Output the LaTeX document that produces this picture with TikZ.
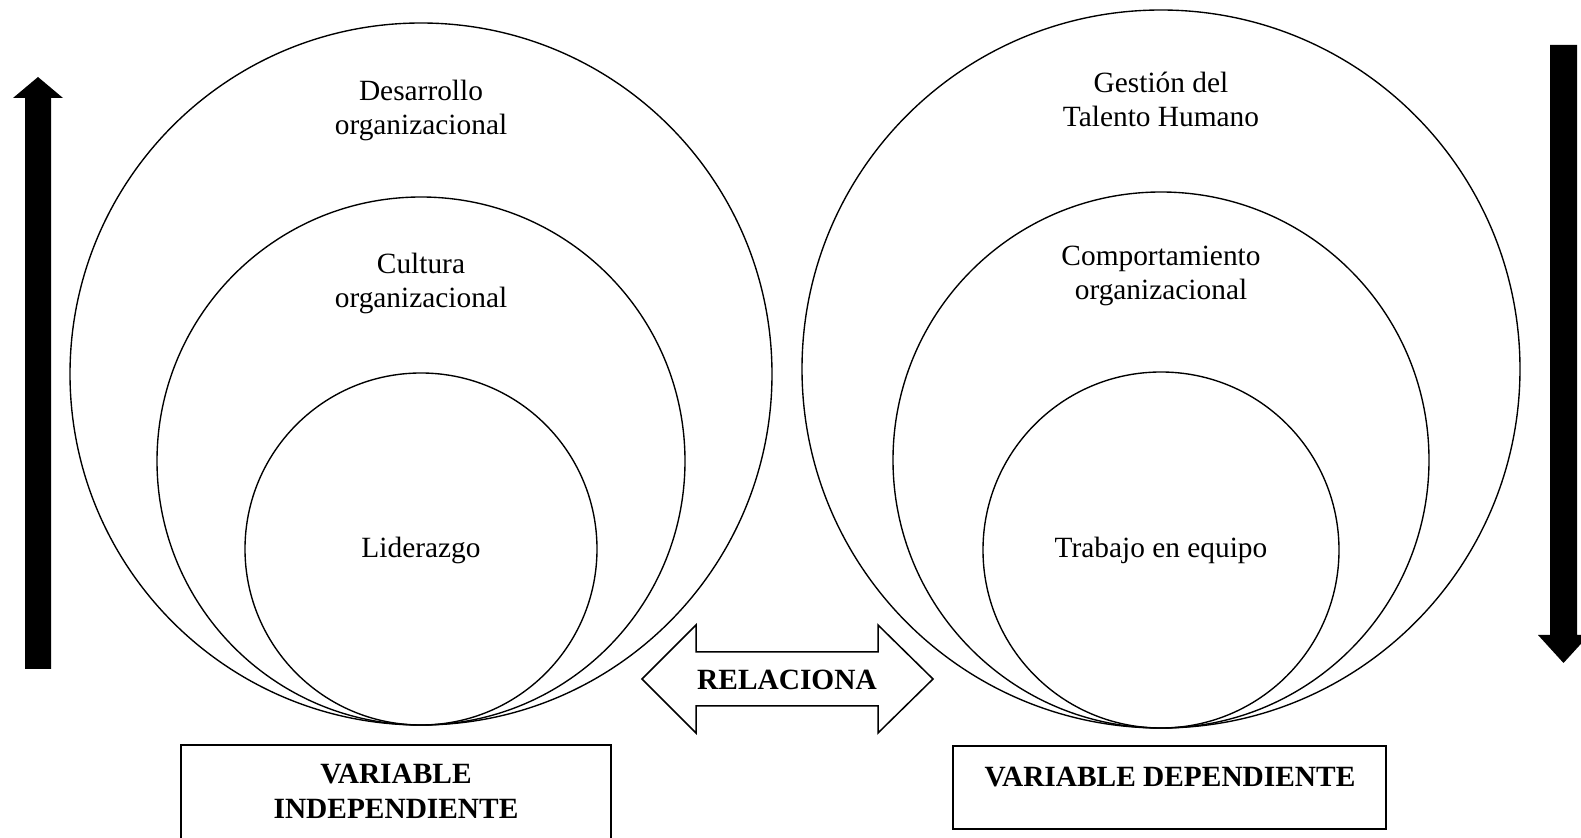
\documentclass[tikz,border=0pt]{standalone}
\usepackage{fontspec}
\setmainfont{Liberation Serif}
\usetikzlibrary{calc}

\begin{document}
\begin{tikzpicture}[
    x=0.4pt, y=-0.4pt,
    ring/.style     = {draw, line width=0.55pt},
    txt/.style      = {align=center, font=\fontsize{11.75}{13.6}\selectfont},
    btxt/.style     = {align=center, font=\fontsize{11.75}{14}\selectfont\bfseries},
    varbox/.style   = {draw, line width=0.6pt},
    bigarrow/.style = {fill=black},
  ]

  % ---------- 画布（与原图同尺寸）----------
  \useasboundingbox (0,0) rectangle (1581,838);
  \clip (0,0) rectangle (1581,838);

  % ---------- 参数：半径 ----------
  \def\Rl{351}  \def\Rm{264}  \def\Rs{176}    % 左侧三圆
  \def\Sl{359}  \def\Sm{268}  \def\Ss{178}    % 右侧三圆

  % ---------- 关键点（三圆公共的最低切点）----------
  \coordinate (L) at (421,725);
  \coordinate (R) at (1161,728);

  % ---------- 左侧：自变量的三层圆 ----------
  \draw[ring] ($(L)+(0,-\Rl)$) circle[radius=\Rl];
  \draw[ring] ($(L)+(0,-\Rm)$) circle[radius=\Rm];
  \draw[ring] ($(L)+(0,-\Rs)$) circle[radius=\Rs];

  % ---------- 右侧：因变量的三层圆 ----------
  \draw[ring] ($(R)+(0,-\Sl)$) circle[radius=\Sl];
  \draw[ring] ($(R)+(0,-\Sm)$) circle[radius=\Sm];
  \draw[ring] ($(R)+(0,-\Ss)$) circle[radius=\Ss];

  % ---------- 圆内文字 ----------
  \node[txt] (desarrollo)     at (421,110)  {Desarrollo\\organizacional};
  \node[txt] (cultura)        at (421,283)  {Cultura\\organizacional};
  \node[txt] (liderazgo)      at (421,550)  {Liderazgo};
  \node[txt] (gestion)        at (1161,99)  {Gestión del\\Talento Humano};
  \node[txt] (comportamiento) at (1161,276) {Comportamiento\\organizacional};
  \node[txt] (trabajo)        at (1161,550) {Trabajo en equipo};

  % ---------- 两侧粗箭头（上 / 下）----------
  \fill[bigarrow] (25,669) -- (25,98) -- (13,98) -- (38,77)
        -- (63,98) -- (51,98) -- (51,669) -- cycle;
  \fill[bigarrow] (1550,45) -- (1550,635) -- (1538,635) -- (1563.5,663)
        -- (1589,635) -- (1577,635) -- (1577,45) -- cycle;

  % ---------- 中间双向箭头 ----------
  \draw[line width=0.6pt, fill=white] (642,679) -- (696,625) -- (696,652)
        -- (878,652) -- (878,625) -- (933,679) -- (878,733) -- (878,706)
        -- (696,706) -- (696,733) -- cycle;
  \node[btxt] (relaciona) at (787,680) {RELACIONA};

  % ---------- 下方的变量框 ----------
  \draw[varbox] (181,745) rectangle (611,862);
  \node[btxt] (indep) at (396,791) {VARIABLE\\INDEPENDIENTE};
  \draw[varbox] (953,746) rectangle (1386,829);
  \node[btxt] (dep)   at (1170,777) {VARIABLE DEPENDIENTE};

\end{tikzpicture}
\end{document}
